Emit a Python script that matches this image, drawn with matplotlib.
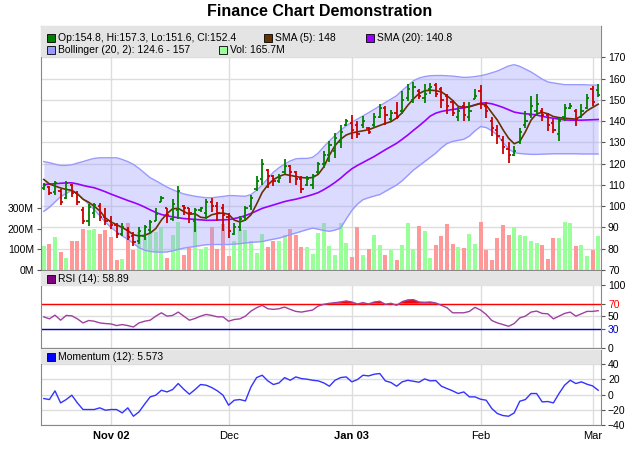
import matplotlib
matplotlib.use("Agg")
import matplotlib.pyplot as plt
from matplotlib.patches import Rectangle
import numpy as np
import pandas as pd

plt.rcParams['font.family'] = ['Liberation Sans', 'DejaVu Sans']

# ── DATA ──────────────────────────────────────────────────────────────────
dates = pd.bdate_range("2002-10-16", periods=100)

open_ = [108.5,109,106.5,107,104,110,106,98,93,97,
         100,95,93,91,87,89,86,83.5,86,89,
         93,102,99,94,98,100,99,93,98,97,
         102,100,99,95,87,90,95,100,108,113,
         117,114,112,116,119,116,113,110,110,116,
         120,124,126,130,138,139,138,138,137,138,
         142,146,141,144,145,151,150,154,151,155,
         157,155,152,149,142,147,142,150.5,154,147,
         140,136,131,127,124,130,138,143,145,145,
         143,139,134,142,146,145,142,146,155,154.8]
high = [111,109.5,112,108,112,110.5,107,99.5,101,101.5,
        101.5,99,95.5,92,92,90,88,90,91,93.5,
        99,105,99,103.5,109.5,100.5,99,99,99.5,103.5,
        104,102,101,97,92,95.5,100,105.5,114,122,
        117.5,114.5,115,122,119.5,116.5,114,114,115,121,
        126,130.5,134.5,138,141,143,140,142.5,137.5,144,
        148,147,145.5,149,154,157.5,158.3,155,157.5,158,
        157.8,156,153,150,146.5,149,149,155,157,149,
        142,138,133,130,128.3,137,145,152,152.7,146.4,
        144,141,141.7,148,148.8,145.7,148,152.7,156.7,157.3]
low = [107.5,105.5,105.5,100.5,103.5,104.5,100.5,91.5,90.5,94.5,
       93,91,89.5,85,86,84,81.5,82,84,87.5,
       93,102,92,93,94,96,92,88,97.5,94,
       97.5,93,88.5,85,86.6,88.2,93,98.4,107,110,
       108.6,109.4,111,115,111,110,106.3,109.4,108,115,
       118,121,122.8,127.5,137.8,131.5,132.3,137,133.8,137,
       141.7,138,140,141,143.3,149.6,148.8,150.4,148.8,152.7,
       151.2,146.4,143.3,142.5,140.1,140.1,140.1,150.4,145.7,141.7,
       133.1,129.1,124.4,120.5,123.6,129.1,137,141.7,142.5,140.1,
       135.4,134.6,130.7,140.1,145.7,137.8,141.7,145.7,147.2,151.6]
close = [110,106,111,102,111,106,102,93,99.5,100.5,
         95,93,91,87,90,85.5,83,88.5,90,92.5,
         96.5,104,96,101,107,99,97,98,99,102,
         100,97,96,88.5,90,94,99,104,112,120,
         114,112,113.5,119,116,113,108,113,114,120,
         124,129,132,135,140,136,134,140,135,142,
         146,143,144,142,150,155,156,152,153,156,
         153,150,147,144,145,143,145,152,148,145,
         137,133,128,124,126,135,140,147,148,143,
         138,136,140,146,147,141,145,151,149,152.4]
volume = [115,125,158,85,60,140,140,200,195,200,
          175,195,160,50,55,230,95,185,160,180,
          185,210,60,170,235,75,105,235,100,110,
          210,100,221,68,139,198,194,139,84,177,
          111,139,139,169,198,171,111,111,79,182,
          229,116,75,229,130,64,208,75,103,169,
          122,75,95,48,122,229,100,213,189,59,
          119,163,224,127,111,106,174,127,232,95,
          48,153,218,171,209,171,166,142,130,119,
          53,153,153,232,229,116,122,68,95,165.7]

sma5 = [112.6,110.5,109.5,108.6,107.9,107.5,105.8,103.3,101.9,100,
        97.8,94.5,92.6,91.3,90,88.5,86.6,86,86.3,87.4,
        89.5,93.5,96.5,98.8,99,97.5,96.2,96.5,94.8,94.5,
        96,96.6,96.8,96.2,93.5,92.6,93.5,96,101,106.5,
        110,112.5,114,115,114.5,114,113.5,113.3,113.5,115,
        118.5,124,128.5,131.5,133.5,134.5,135,135.5,136,137,
        138,139,139.8,141.5,144,147.5,150.5,153,154.3,154.6,
        154.4,153.8,152,149.8,147,146.5,146.8,147.6,148.3,147.5,
        144,140.5,136,132,129.4,130.5,135,140.5,143.5,144.2,
        143.5,142.2,141.7,141.4,141.2,141,142.5,144.9,146.5,148]
sma20 = [110.2,110.4,110.6,110.8,111,111,110.5,109.8,109.2,108.7,
         107.8,106.8,105.7,104.7,103.7,102.7,101.8,100.8,99.6,98.3,
         97.1,96.1,95.5,95,94.6,94.2,94,93.8,93.6,93.4,
         93.4,93.5,93.6,93.7,94.2,94.8,95.6,96.6,97.8,99,
         99.8,100.6,101.4,102.2,102.8,103.3,104,104.7,105.5,106.4,
         107.8,109.4,111.2,113.2,115.5,117.6,119.2,120.6,122,123.4,
         125,126.6,128.1,129.6,131.5,133.5,135.7,137.8,140,142.4,
         143.8,144.6,145.1,145.5,145.9,146.3,146.9,147.7,148.5,148.6,
         148.2,147.4,146.5,145.4,144.3,143.8,143.5,143.3,142.9,142.3,
         141.8,141.4,141,140.6,140.5,140.5,140.5,140.6,140.7,140.8]
bb_upper = [121,120.5,119.8,119.2,119.2,119.5,120.3,121,121.8,122.5,
            122.8,122.8,122.8,122.8,122,121,119.7,117.8,115.6,113.4,
            112,110.5,109,107.8,106.7,105.8,105.2,104.7,104.3,104,
            104,104.3,104.6,105,105,104.8,104.7,105.5,107.5,110,
            113,116,118.1,119.8,121.3,122.3,122.5,122.5,123,125,
            128,130.7,133.3,135.8,137.8,139.5,141,142.5,144,145.6,
            147.2,148.8,150.4,152,154.5,156.7,159,160.3,161,161.4,
            161.5,161.5,161.4,161.2,160.9,160.6,160.7,161,161.4,162,
            162.8,163.6,164.8,166,166.6,165.8,164.5,163.2,161.5,159.8,
            158.5,158,157.6,157.2,157.2,157.2,157.2,157.1,157,157]
bb_lower = [97.6,99.5,102,104.5,106,107.5,106,103.5,101,98.4,
            95.5,92.5,90,88,86,84.5,82.5,80.5,79.3,78.7,
            78.5,78.4,78.5,79,79.7,80.3,80.7,81.1,81.5,81.9,
            82,82,82,82,82.2,82.4,82.7,83,83.2,83.4,
            84,84.5,85,85.8,86.6,87.4,88.2,89,89.7,89.2,
            88.6,88.2,88.8,89.7,94,98,101,103.1,104,104.8,
            105.5,107,108.5,110,112,114.5,117,119,121,123,
            125,127.5,129.5,130.5,131,131.5,133,135.5,137.5,137,
            135.5,133.5,130,127,125.2,124.8,124.6,124.4,124.4,124.5,
            124.6,124.7,124.7,124.7,124.7,124.7,124.6,124.6,124.6,124.6]
rsi = [49.2,46.0,51.9,43.9,51.4,50.8,46.0,39.6,43.4,42.3,
       39.6,38.6,38.0,35.4,37.0,35.4,33.2,39.6,42.3,43.9,
       50.3,55.6,50.3,51.4,56.7,50.3,43.9,46.6,50.3,53.0,
       51.4,49.2,49.2,42.3,45.0,46.0,50.3,58.3,63.6,67.4,
       62.0,61.0,62.0,64.7,61.0,57.8,56.7,58.3,59.9,66.3,
       69.0,70.6,71.6,72.7,74.3,72.7,69.5,71.6,69.5,72.7,
       73.8,69.0,70.6,67.4,73.2,75.9,76.4,72.7,72.2,72.7,
       71.1,67.4,63.6,55.6,55.6,55.6,57.8,64.2,59.9,53.0,
       43.4,39.6,37.0,34.3,38.6,47.6,50.3,56.7,58.3,54.6,
       54.0,46.0,50.3,54.6,56.7,50.3,54.0,57.8,57.8,58.89]
momentum = [-5.3,-6.6,4.8,-11.0,-6.6,-0.9,-11.0,-19.7,-19.7,-19.7,
            -17.5,-20.6,-19.7,-19.7,-24.1,-17.5,-28.5,-22.8,-12.7,-3.1,
            -0.9,5.6,3.4,6.5,14.4,6.9,0.4,6.5,13.1,12.2,
            9.1,4.8,-0.9,-14.0,-7.5,-6.6,-8.4,10.0,22.2,25.3,
            17.9,13.1,15.2,22.2,18.7,23.1,20.9,20.1,18.7,17.9,
            15.2,10.9,18.7,22.2,23.1,16.6,19.6,25.3,24.4,26.6,
            27.5,17.9,15.7,10.9,16.6,18.7,17.4,16.1,20.5,17.9,
            18.3,10.9,7.8,4.8,1.3,3.4,-3.1,-3.1,-6.2,-7.5,
            -18.4,-25.0,-27.6,-28.5,-24.1,-8.8,-6.6,1.3,1.3,-9.7,
            -9.2,-11.0,1.3,12.2,18.7,14.4,16.6,13.5,11.3,5.573]

month_labels = ["Nov 02", "Dec", "Jan 03", "Feb", "Mar"]
month_bold = [True, False, True, False, False]

# ── FIGURE ────────────────────────────────────────────────────────────────
W, H = 640, 449
def rect(l, t, r, b):
    return [l / W, 1 - b / H, (r - l) / W, (b - t) / H]

fig = plt.figure(figsize=(6.4, 4.49), dpi=100)
fig.patch.set_facecolor("white")

x = np.arange(len(close))
close_a = np.array(close)
up = np.r_[True, np.diff(close_a) > 0]

ax = fig.add_axes(rect(41, 26, 601, 270))
axv = ax.twinx()
ax_r = fig.add_axes(rect(41, 271, 601, 348), sharex=ax)
ax_m = fig.add_axes(rect(41, 350, 601, 425), sharex=ax)

# month grid positions
month_pos = [i for i in range(1, len(dates)) if dates[i].month != dates[i - 1].month]

GRID = "#dddddd"
FRAME = "#888888"

for a in (ax, ax_r, ax_m):
    a.set_xlim(-0.5, len(close) - 0.5)
    a.set_xticks(month_pos)
    a.tick_params(axis="x", length=0, labelbottom=False)
    a.grid(axis="x", color=GRID, lw=1)
    a.grid(axis="y", color=GRID, lw=1)
    a.set_axisbelow(True)
    for s in a.spines.values():
        s.set_color(FRAME)
    a.yaxis.tick_right()
    a.tick_params(axis="y", labelsize=7.5, length=3, color="#555555", pad=2)

# ── MAIN PANEL ────────────────────────────────────────────────────────────
ax.set_ylim(70, 184.8)
ax.set_yticks(range(70, 171, 10))
axv.set_ylim(0, 1185)
axv.yaxis.tick_left()
axv.set_yticks([0, 100, 200, 300])
axv.set_yticklabels(["0M", "100M", "200M", "300M"])
axv.tick_params(axis="y", labelsize=7.5, length=3, color="#555555", pad=2)
for s in axv.spines.values():
    s.set_visible(False)

vol_col = np.where(up, "#99ff99", "#ff9999")
ax.bar(x, volume, width=0.72, color=vol_col, transform=axv.transData, zorder=1)

ax.fill_between(x, bb_lower, bb_upper, color="#9999ff", alpha=0.35, lw=0, zorder=2)
ax.plot(x, bb_upper, color="#9999ff", lw=1, zorder=2)
ax.plot(x, bb_lower, color="#9999ff", lw=1, zorder=2)
ax.plot(x, sma20, color="#9900ff", lw=1.2, zorder=3)
ax.plot(x, sma5, color="#663300", lw=1.2, zorder=3)

bar_col = np.where(up, "#008000", "#cc0000")
ax.vlines(x, low, high, colors=bar_col, lw=1.3, zorder=4)
ax.hlines(open_, x - 0.38, x, colors=bar_col, lw=1.3, zorder=4)
ax.hlines(close, x, x + 0.38, colors=bar_col, lw=1.3, zorder=4)

# ── RSI PANEL ─────────────────────────────────────────────────────────────
rsi_a = np.array(rsi)
ax_r.set_ylim(0, 121.6)
ax_r.set_yticks([0, 30, 50, 70, 100])
ax_r.fill_between(x, rsi_a, 70, where=rsi_a > 70, interpolate=True, color="#ff0000", lw=0, zorder=2)
ax_r.axhline(70, color="#ff0000", lw=1, zorder=2)
ax_r.axhline(30, color="#0000cc", lw=1, zorder=2)
ax_r.plot(x, rsi, color="#a040a0", lw=1, zorder=3)
tl = ax_r.get_yticklabels()
tl[1].set_color("#0000cc")
tl[3].set_color("#ff0000")

# ── MOMENTUM PANEL ────────────────────────────────────────────────────────
ax_m.set_ylim(-40, 58.4)
ax_m.set_yticks([-40, -20, 0, 20, 40])
ax_m.plot(x, momentum, color="#3333ff", lw=1, zorder=3)

# bottom axis labels
for pos, lab, bold in zip(month_pos, month_labels, month_bold):
    ax_m.text(pos, -0.08, lab, transform=ax_m.get_xaxis_transform(), ha="center", va="top",
              fontsize=8, fontweight="bold" if bold else "normal")

# ── LEGEND BARS ───────────────────────────────────────────────────────────
def header(a, top_px, bot_px, panel_top, panel_bot):
    h = (panel_bot - panel_top)
    y0 = 1 - (bot_px - panel_top) / h
    a.add_patch(Rectangle((0, y0), 1, 1 - y0, transform=a.transAxes, facecolor="#e4e4e4",
                          edgecolor="none", zorder=6, clip_on=False))

header(ax, 26, 57, 26, 270)
header(ax_r, 271, 286, 271, 348)
header(ax_m, 350, 364, 350, 425)

def legend_item(px, py, color, text):
    fig.patches.append(Rectangle((px / W, 1 - (py + 4) / H), 8 / W, 8 / H, transform=fig.transFigure,
                                 facecolor=color, edgecolor="black", lw=0.6, zorder=10))
    fig.text((px + 11) / W, 1 - py / H, text, fontsize=7.5, va="center", ha="left", zorder=11)

legend_item(47, 38, "#008000", "Op:154.8, Hi:157.3, Lo:151.6, Cl:152.4")
legend_item(264, 38, "#663300", "SMA (5): 148")
legend_item(366, 38, "#9900ff", "SMA (20): 140.8")
legend_item(47, 50, "#9999ff", "Bollinger (20, 2): 124.6 - 157")
legend_item(219, 50, "#99ff99", "Vol: 165.7M")
legend_item(47, 279, "#800080", "RSI (14): 58.89")
legend_item(47, 357, "#0000ff", "Momentum (12): 5.573")

fig.text(0.5, 1 - 11 / H, "Finance Chart Demonstration", ha="center", va="center",
         fontsize=11.5, fontweight="bold")

fig.savefig("out.png", dpi=100)
